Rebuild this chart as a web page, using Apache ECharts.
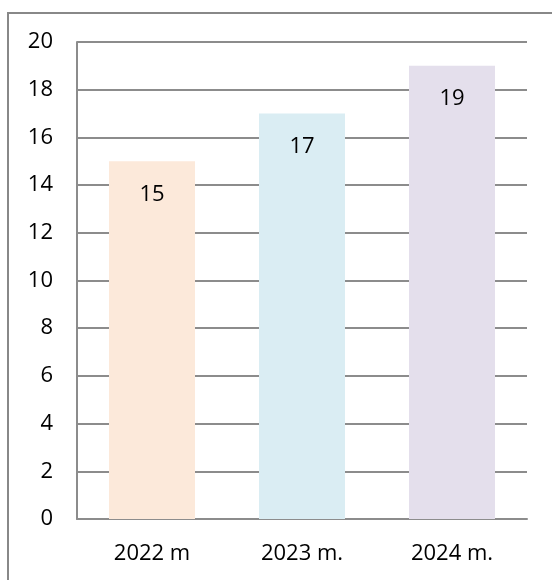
<!DOCTYPE html>
<html>
<head>
<meta charset="utf-8">
<script src="https://cdn.jsdelivr.net/npm/echarts@6/dist/echarts.min.js"></script>
<style>
  html, body { margin: 0; padding: 0; background: #fff; }
  #chart { width: 552px; height: 580px; }
</style>
</head>
<body>
<div id="chart"></div>
<script>
const categories = ['2022 m', '2023 m.', '2024 m.'];
const values = [15, 17, 19];
const barColors = ['#FCE9DA', '#DAEDF3', '#E4DFEC'];

const myChart = echarts.init(document.getElementById('chart'));

const option = {
  animation: false,
  textStyle: { fontFamily: 'Open Sans' },
  graphic: [
    {
      type: 'rect',
      shape: { x: 8, y: 13, width: 600, height: 620 },
      style: { fill: 'none', stroke: '#888', lineWidth: 2 },
      silent: true
    }
  ],
  grid: {
    left: 77,
    right: 25,
    top: 42,
    bottom: 61
  },
  xAxis: {
    type: 'category',
    data: categories,
    axisLine: { lineStyle: { color: '#8c8c8c', width: 2 } },
    axisTick: { show: false },
    axisLabel: { color: '#000', fontSize: 22, margin: 24 }
  },
  yAxis: {
    type: 'value',
    min: 0,
    max: 20,
    interval: 2,
    axisLine: { show: true, lineStyle: { color: '#8c8c8c', width: 2 } },
    axisTick: { show: false },
    axisLabel: { color: '#000', fontSize: 22, margin: 24 },
    splitLine: { lineStyle: { color: '#8c8c8c', width: 2 } }
  },
  series: [
    {
      type: 'bar',
      barWidth: 86,
      data: values.map((v, i) => ({ value: v, itemStyle: { color: barColors[i] } })),
      label: {
        show: true,
        position: 'insideTop',
        distance: 22,
        color: '#000',
        fontSize: 22
      }
    }
  ]
};

myChart.setOption(option);
</script>
</body>
</html>
